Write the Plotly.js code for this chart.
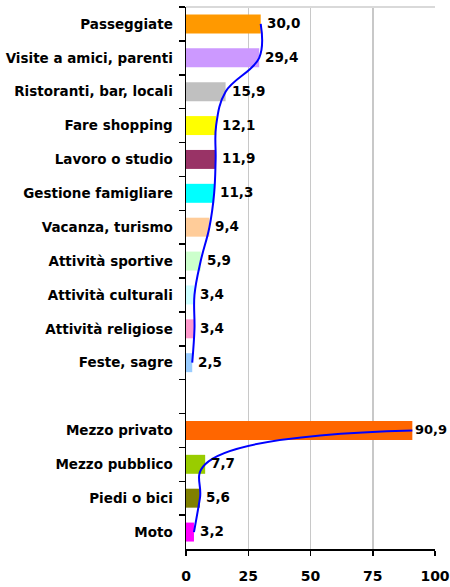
<!DOCTYPE html>
<html>
<head>
<meta charset="utf-8">
<script src="https://cdn.plot.ly/plotly-3.0.1.min.js"></script>
<style>html,body{margin:0;padding:0;background:#fff;}#chart{width:450px;height:587px;}</style>
</head>
<body>
<div id="chart"></div>
<script>
// Data
const activityCategories = ["Passeggiate","Visite a amici, parenti","Ristoranti, bar, locali","Fare shopping","Lavoro o studio","Gestione famigliare","Vacanza, turismo","Attività sportive","Attività culturali","Attività religiose","Feste, sagre"];
const activityValues = [30.0,29.4,15.9,12.1,11.9,11.3,9.4,5.9,3.4,3.4,2.5];
const activityColors = ["#FF9900","#CC99FF","#C0C0C0","#FFFF00","#993366","#00FFFF","#FFCC99","#CCFFCC","#CCFFFF","#FF99CC","#99CCFF"];
const transportCategories = ["Mezzo privato","Mezzo pubblico","Piedi o bici","Moto"];
const transportValues = [90.9,7.7,5.6,3.2];
const transportColors = ["#FF6600","#99CC00","#808000","#FF00FF"];
const spacer = " ";
const xTicks = [0,25,50,75,100];

const fontFam = "'Comic Sans MS', 'DejaVu Sans', sans-serif";
const fmt = v => v.toFixed(1).replace('.', ',');
const allCats = activityCategories.concat([spacer], transportCategories);

const traces = [
  {type:'bar', orientation:'h', y:activityCategories, x:activityValues,
   marker:{color:activityColors, line:{width:0}}, width:0.56, hoverinfo:'skip'},
  {type:'bar', orientation:'h', y:transportCategories, x:transportValues,
   marker:{color:transportColors, line:{width:0}}, width:0.56, hoverinfo:'skip'},
  {type:'scatter', mode:'lines', y:activityCategories, x:activityValues,
   line:{color:'#0000FF', width:2, shape:'spline', smoothing:1.1}, hoverinfo:'skip'},
  {type:'scatter', mode:'lines', y:transportCategories, x:transportValues,
   line:{color:'#0000FF', width:2, shape:'spline', smoothing:1.25}, hoverinfo:'skip'}
];

const annotations = [];
function addLabels(cats, vals){
  cats.forEach((c,i)=>{
    annotations.push({x:vals[i], y:c, xref:'x', yref:'y', text:fmt(vals[i]), showarrow:false,
      xanchor:'left', yanchor:'middle', xshift:vals[i] > 80 ? 1 : 4, yshift:1,
      font:{family:fontFam, size:vals[i] > 80 ? 13 : 13.5, color:'#000', weight:'bold'}});
  });
}
addLabels(activityCategories, activityValues);
addLabels(transportCategories, transportValues);

const layout = {
  width:450, height:587,
  margin:{l:186, r:15, t:7, b:38},
  paper_bgcolor:'#fff', plot_bgcolor:'#fff',
  showlegend:false, barmode:'overlay',
  font:{family:fontFam, size:13, color:'#000'},
  annotations:annotations,
  xaxis:{range:[0,100], tickvals:xTicks, ticktext:xTicks.map(String),
    showgrid:true, gridcolor:'#C8C8C8', gridwidth:1.5, zeroline:false,
    showline:true, linecolor:'#000', linewidth:1.5,
    ticks:'outside', ticklen:5, tickcolor:'#000', tickwidth:1.5,
    ticklabelstandoff:9, ticklabeloverflow:'allow',
    tickfont:{family:fontFam, size:14, color:'#000', weight:'bold'}, fixedrange:true},
  yaxis:{type:'category', categoryorder:'array', categoryarray:allCats, range:[15.5,-0.5],
    showline:true, linecolor:'#000', linewidth:1.5, showgrid:false, zeroline:false,
    ticks:'outside', tickson:'boundaries', ticklen:6, tickcolor:'#000', tickwidth:1.5,
    ticklabelstandoff:9,
    tickfont:{family:fontFam, size:13.5, color:'#000', weight:'bold'}, fixedrange:true},
  shapes:[{type:'line', xref:'paper', yref:'paper', x0:0, x1:1, y0:1, y1:1, line:{color:'#D9D9D9', width:2}}]
};

Plotly.newPlot('chart', traces, layout, {staticPlot:true, displayModeBar:false});
</script>
</body>
</html>
